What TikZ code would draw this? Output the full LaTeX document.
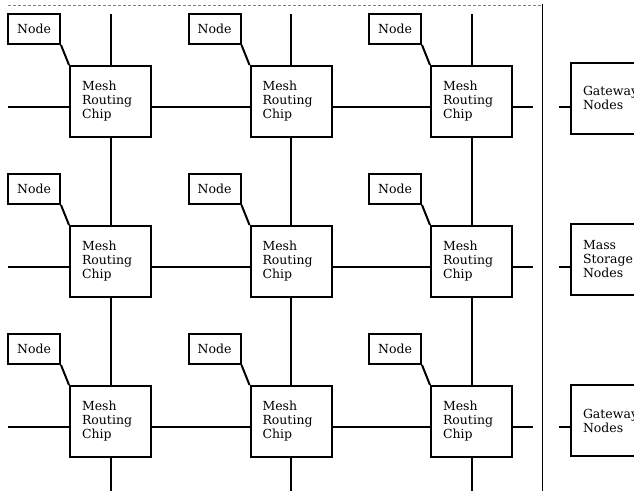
\documentclass[tikz,border=0pt]{standalone}
\usepackage{fontspec}
\setmainfont{DejaVu Serif}
\usetikzlibrary{positioning}

\begin{document}
\begin{tikzpicture}[x=1pt,y=-1pt,line width=2pt,
    font=\fontsize{12.5}{14}\selectfont,
    chip/.style={draw,fill=white,minimum width=81pt,minimum height=71pt,
      inner xsep=11pt,text width=57pt,align=left},
    pe/.style={draw,fill=white,minimum width=52pt,minimum height=30pt,inner sep=0pt}]
  \useasboundingbox (0,0) rectangle (634,491);
  \clip (0,0) rectangle (634,491);
  % 3x3 mesh of routing chips, each with its node
  \foreach \c/\x in {1/110.5,2/291,3/471.5}
    \foreach \r/\y in {1/101.5,2/261.5,3/421.5} {
      \node[chip] (c\r\c) at (\x,\y) {Mesh\\Routing\\Chip};
      \node[pe,above left=20pt and 8pt of c\r\c.north west] (n\r\c) {Node};
      \draw (n\r\c.south east) -- (c\r\c.north west);
    }
  % vertical links, open at top and bottom
  \foreach \c/\x in {1/110.5,2/291,3/471.5} {
    \coordinate (top\c) at (\x,14);
    \coordinate (bot\c) at (\x,491);
    \draw (top\c) -- (c1\c.north);
    \draw (c1\c.south) -- (c2\c.north);
    \draw (c2\c.south) -- (c3\c.north);
    \draw (c3\c.south) -- (bot\c);
  }
  % devices on the right edge of the mesh
  \node[chip] (g1) at (611.5,98) {Gateway\\Nodes};
  \node[chip] (ms) at (611.5,259) {Mass\\Storage\\Nodes};
  \node[chip] (g3) at (611.5,420.5) {Gateway\\Nodes};
  % horizontal links, open at left, stubs at right
  \foreach \r/\y/\d in {1/106.5/g1,2/266.5/ms,3/426.5/g3} {
    \coordinate (lft\r) at (8,\y);
    \coordinate (rgt\r) at (533,\y);
    \coordinate (dev\r) at (559,\y);
    \draw (lft\r) -- ([yshift=-5pt]c\r1.west);
    \draw ([yshift=-5pt]c\r1.east) -- ([yshift=-5pt]c\r2.west);
    \draw ([yshift=-5pt]c\r2.east) -- ([yshift=-5pt]c\r3.west);
    \draw ([yshift=-5pt]c\r3.east) -- (rgt\r);
    \draw (dev\r) -- (dev\r -| \d.west);
  }
  % frame of the mesh
  \draw[line width=1pt] (542,4) -- (542,491);
  \draw[line width=0.5pt,densely dashed,gray] (8,5) -- (542,5);
\end{tikzpicture}
\end{document}
